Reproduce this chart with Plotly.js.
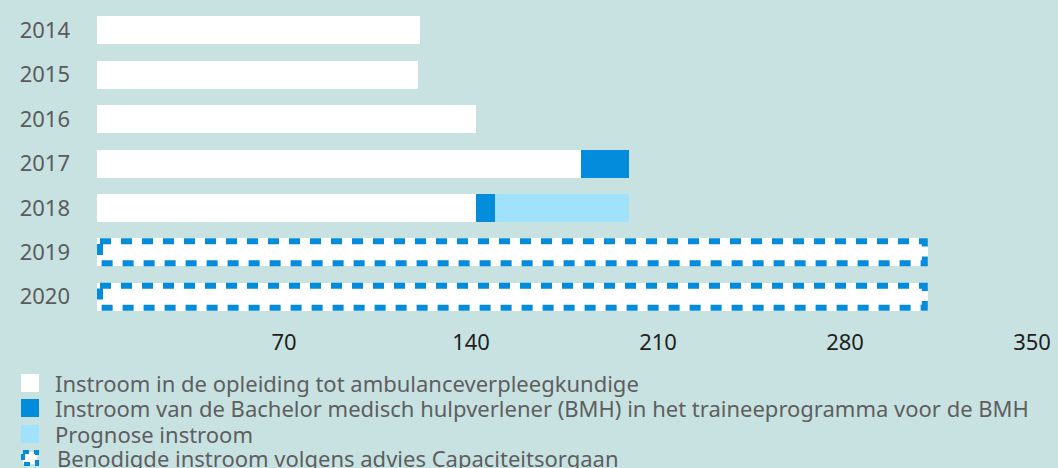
<!DOCTYPE html>
<html>
<head>
<meta charset="utf-8">
<script src="https://cdn.plot.ly/plotly-3.0.1.min.js"></script>
<style>html,body{margin:0;padding:0;background:#c8e2e2;}#chart{width:1058px;height:468px;}</style>
</head>
<body>
<div id="chart"></div>
<script>
// ---- data ----
const years = ['2014','2015','2016','2017','2018','2019','2020'];
const instroomAVK = [121, 120, 142, 181, 142, null, null];
const instroomBMH = [null, null, null, 18, 7, null, null];
const prognose = [null, null, null, null, 50, null, null];
const benodigd = [null, null, null, null, null, 311, 311];
const seriesNames = [
  'Instroom in de opleiding tot ambulanceverpleegkundige',
  'Instroom van de Bachelor medisch hulpverlener (BMH) in het traineeprogramma voor de BMH',
  'Prognose instroom',
  'Benodigde instroom volgens advies Capaciteitsorgaan'
];
const xTicks = [70, 140, 210, 280, 350];

// ---- style ----
const BG = '#c8e2e2';
const WHITE = '#ffffff';
const BLUE = '#038cdb';
const LIGHT = '#a0e1fc';
const W = 1058, H = 468;
const M = {l: 97, r: 26, t: 8, b: 149};
const plotW = W - M.l - M.r, plotH = H - M.t - M.b;
const xMax = 350;
const barWidth = 0.63;
const font = 'Noto Sans, Open Sans, sans-serif';

function bar(vals, color, name) {
  return {type: 'bar', orientation: 'h', y: years, x: vals, name: name,
    marker: {color: color, line: {width: 0}}, width: barWidth,
    hoverinfo: 'skip', showlegend: false};
}
const traces = [
  bar(instroomAVK, WHITE, seriesNames[0]),
  bar(instroomBMH, BLUE, seriesNames[1]),
  bar(prognose, LIGHT, seriesNames[2]),
  bar(benodigd, WHITE, seriesNames[3])
];

// dashed outlines for the "benodigd" bars (inset by half the stroke width)
const strokeW = 6;
const insetX = (strokeW / 2) * xMax / plotW;
const insetY = (strokeW / 2) * years.length / plotH;
const shapes = [];
benodigd.forEach((v, i) => {
  if (v == null) return;
  shapes.push({type: 'rect', xref: 'x', yref: 'y',
    x0: insetX, x1: v - insetX,
    y0: i - barWidth / 2 + insetY, y1: i + barWidth / 2 - insetY,
    line: {color: BLUE, width: strokeW, dash: '11px,10px'}, fillcolor: 'rgba(0,0,0,0)', layer: 'above'});
});

// custom legend (pixel positions -> paper coordinates)
const px = v => (v - M.l) / plotW;
const py = v => (H - M.b - v) / plotH;
const legendRows = [383, 408, 434, 458];
const legendColors = [WHITE, BLUE, LIGHT, null];
const annotations = [];
seriesNames.forEach((name, i) => {
  const cy = legendRows[i];
  if (legendColors[i]) {
    shapes.push({type: 'rect', xref: 'paper', yref: 'paper',
      x0: px(21), x1: px(39), y0: py(cy - 9), y1: py(cy + 9),
      fillcolor: legendColors[i], line: {width: 0}});
  } else {
    shapes.push({type: 'rect', xref: 'paper', yref: 'paper',
      x0: px(23), x1: px(37), y0: py(cy - 6), y1: py(cy + 6),
      fillcolor: WHITE, line: {color: BLUE, width: 4, dash: '6px,5px'}});
  }
  annotations.push({xref: 'paper', yref: 'paper', x: px(i === 3 ? 55 : 53), y: py(cy),
    xanchor: 'left', yanchor: 'middle', showarrow: false, text: name,
    font: {family: font, size: 22, color: '#5e5e5e'}});
});

const layout = {
  width: W, height: H,
  margin: M,
  paper_bgcolor: BG, plot_bgcolor: BG,
  barmode: 'stack',
  bargap: 0.37,
  showlegend: false,
  xaxis: {range: [0, xMax], tickvals: xTicks, ticktext: xTicks.map(String),
    showgrid: false, zeroline: false, showline: false, ticks: '',
    ticklabelstandoff: 8,
    tickfont: {family: font, size: 22, color: '#1e1e1e'}},
  yaxis: {type: 'category', categoryorder: 'array', categoryarray: years,
    autorange: 'reversed', showgrid: false, zeroline: false, showline: false, ticks: '',
    ticklabelstandoff: 26,
    tickfont: {family: font, size: 22, color: '#5a5a5a'}},
  shapes: shapes,
  annotations: annotations
};

Plotly.newPlot('chart', traces, layout, {staticPlot: true, displayModeBar: false});
</script>
</body>
</html>
